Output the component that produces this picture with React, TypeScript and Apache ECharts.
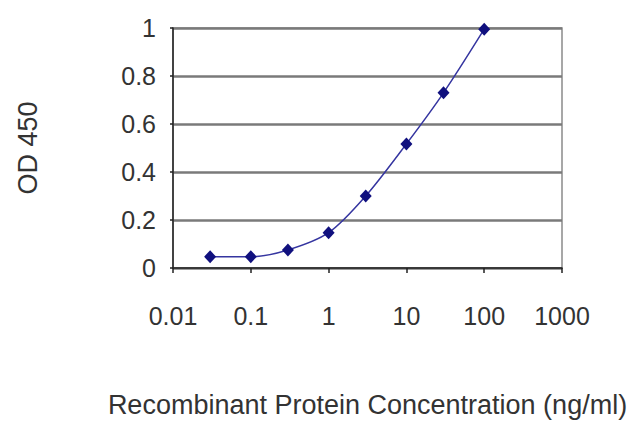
import React, { useEffect, useRef } from "react";
import * as echarts from "echarts";

const concentrations = [0.03, 0.1, 0.3, 1, 3, 10, 30, 100];
const odValues = [0.047, 0.047, 0.075, 0.147, 0.3, 0.517, 0.73, 0.995];
const yTicks = [0, 0.2, 0.4, 0.6, 0.8, 1];
const xTitle = "Recombinant Protein Concentration (ng/ml)";
const yTitle = "OD 450";

export default function App() {
  const ref = useRef<HTMLDivElement>(null);
  useEffect(() => {
    if (!ref.current) return;
    const chart = echarts.init(ref.current, undefined, { renderer: "svg" });
    const font = "'Liberation Sans', Arial, sans-serif";
    chart.setOption({
      animation: false,
      backgroundColor: "#ffffff",
      grid: {
        left: 173,
        right: 78,
        top: 28,
        bottom: 159,
        show: true,
        borderColor: "#8a8a8a",
        borderWidth: 1.5,
        backgroundColor: "transparent",
      },
      xAxis: {
        type: "log",
        logBase: 10,
        min: 0.01,
        max: 1000,
        name: xTitle,
        nameLocation: "middle",
        nameGap: 123,
        nameTextStyle: { fontSize: 27, color: "#333", fontFamily: font },
        axisLine: { show: true, lineStyle: { color: "#222", width: 1.5 } },
        axisTick: { show: true, length: 5, lineStyle: { color: "#222", width: 1.5 } },
        minorTick: { show: false },
        splitLine: { show: false },
        axisLabel: {
          fontSize: 25,
          color: "#333",
          fontFamily: font,
          margin: 35,
          formatter: (v: number) => String(v),
        },
      },
      yAxis: {
        type: "value",
        min: yTicks[0],
        max: yTicks[yTicks.length - 1],
        interval: 0.2,
        name: yTitle,
        nameLocation: "middle",
        nameGap: 132,
        nameRotate: 90,
        nameTextStyle: { fontSize: 27, color: "#333", fontFamily: font },
        axisLine: { show: true, lineStyle: { color: "#222", width: 1.5 } },
        axisTick: { show: true, length: 3, lineStyle: { color: "#222", width: 1.5 } },
        splitLine: { show: true, lineStyle: { color: "#7a7a7a", width: 2.5 } },
        axisLabel: {
          fontSize: 25,
          color: "#333",
          fontFamily: font,
          margin: 17,
          formatter: (v: number) => String(Math.round(v * 10) / 10),
        },
      },
      series: [
        {
          type: "line",
          data: concentrations.map((c, i) => [c, odValues[i]]),
          smooth: 0.3,
          symbol: "diamond",
          symbolSize: [12, 13],
          itemStyle: { color: "#10107e" },
          lineStyle: { color: "#3535a0", width: 1.5 },
        },
      ],
    });
    return () => chart.dispose();
  }, []);
  return (
    <div
      ref={ref}
      style={{ position: "absolute", left: 0, top: 0, width: 640, height: 427, background: "#fff" }}
    />
  );
}
